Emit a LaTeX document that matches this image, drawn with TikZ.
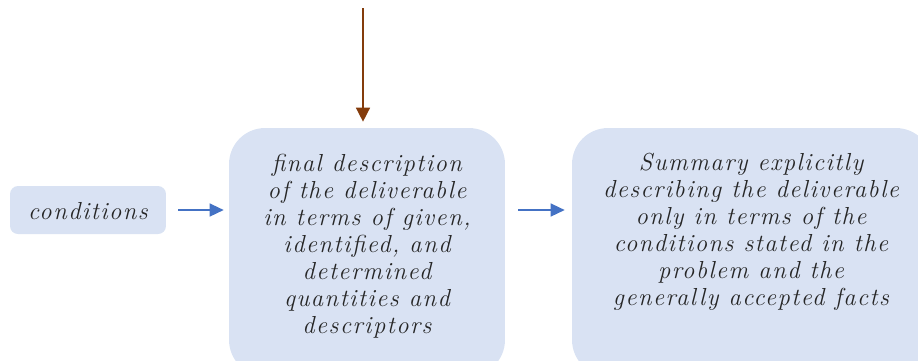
\documentclass[tikz,border=0pt]{standalone}
\usepackage{fontspec}
\usepackage{tikz}
\usetikzlibrary{positioning,arrows.meta,calc}
\newfontfamily\handfont{Latin Modern Roman}[LetterSpace=6.0]

\begin{document}
\begin{tikzpicture}[x=0.02cm,y=-0.02cm,font=\handfont\fontsize{14}{15.4}\selectfont\itshape,align=center,
  box/.style={fill=boxblue,draw=none,inner sep=0pt},
  txt/.style={text=ink,inner sep=0pt},
  arr/.style={-{Triangle[length=2.8mm,width=2.6mm]},line width=.8pt,draw=arrblue},
  feed/.style={-{Triangle[length=2.8mm,width=2.8mm]},line width=.8pt,draw=brown}]
\definecolor{boxblue}{HTML}{D9E2F3}
\definecolor{arrblue}{HTML}{4472C4}
\definecolor{brown}{HTML}{843C0C}
\definecolor{ink}{HTML}{262626}
\useasboundingbox (0,0) rectangle (918,360);
\clip (0,0) rectangle (918,360);
% boxes
\node[box,rounded corners=0.16cm,minimum width=3.12cm,minimum height=0.96cm] (cond) at (88,210) {};
\node[box,rounded corners=0.72cm,minimum width=5.52cm,minimum height=4.96cm] (final) at (367,252) {};
\node[box,rounded corners=0.72cm,minimum width=7.2cm,minimum height=4.96cm] (summ) at (752,252) {};
% texts
\node[txt] (condtxt) at (88,211) {conditions};
\node[txt] (finaltxt) at (367,246)
  {final description\\of the deliverable\\in terms of given,\\identified, and\\determined\\quantities and\\descriptors};
\node[txt] (summtxt) at (751,232)
  {Summary explicitly\\describing the deliverable\\only in terms of the\\conditions stated in the\\problem and the\\generally accepted facts};
% connectors
\coordinate (top) at (363,8);
\draw[feed,shorten >=0.12cm] (top)--(top |- final.north);
\draw[arr,shorten <=0.24cm,shorten >=0.1cm] (cond.east)--(cond.east -| final.west);
\draw[arr,shorten <=0.26cm,shorten >=0.14cm] (cond.east -| final.east)--(cond.east -| summ.west);
\end{tikzpicture}
\end{document}
